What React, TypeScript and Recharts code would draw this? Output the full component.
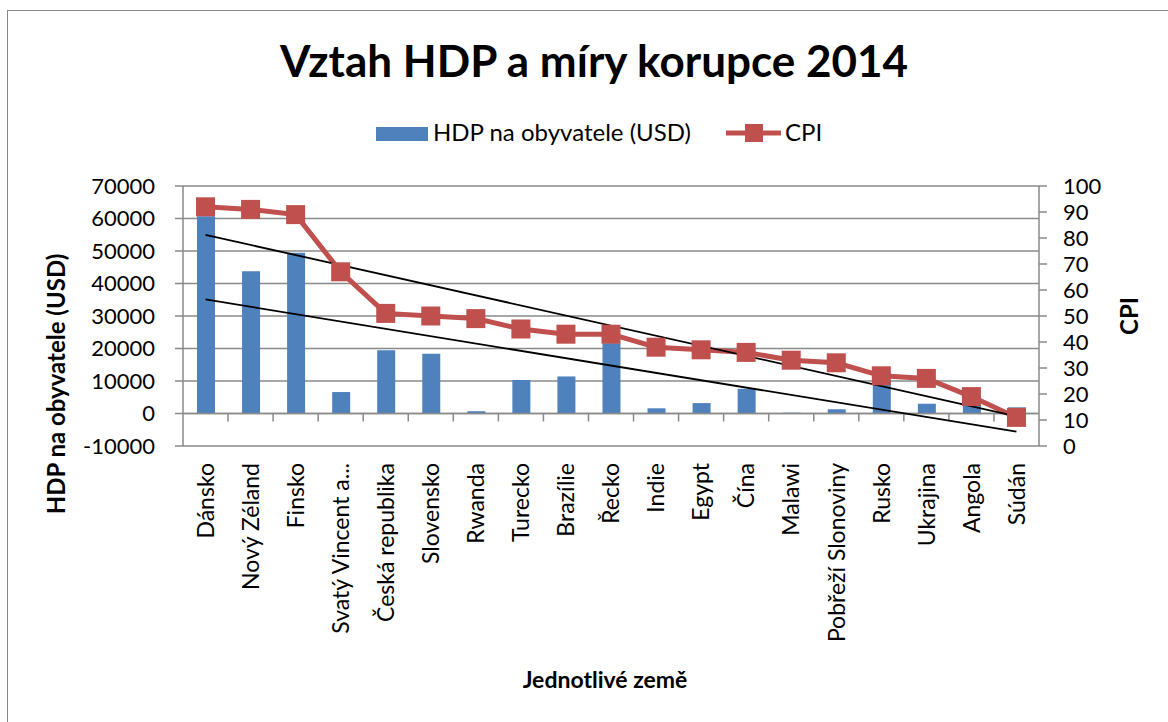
import React from 'react';
import { ComposedChart, Bar, Line, XAxis, YAxis, CartesianGrid, ReferenceLine } from 'recharts';

const categories = [
  'Dánsko', 'Nový Zéland', 'Finsko', 'Svatý Vincent a...', 'Česká republika', 'Slovensko',
  'Rwanda', 'Turecko', 'Brazílie', 'Řecko', 'Indie', 'Egypt', 'Čína', 'Malawi',
  'Pobřeží Slonoviny', 'Rusko', 'Ukrajina', 'Angola', 'Súdán',
];
const hdpValues = [60700, 43800, 49500, 6600, 19500, 18400, 700, 10300, 11400, 21600, 1600, 3200, 7600, 250, 1300, 12700, 3000, 5300, 1900];
const cpiValues = [92, 91, 89, 67, 51, 50, 49, 45, 43, 43, 38, 37, 36, 33, 32, 27, 26, 19, 11];
const hdpTicks = [-10000, 0, 10000, 20000, 30000, 40000, 50000, 60000, 70000];
const cpiTicks = [0, 10, 20, 30, 40, 50, 60, 70, 80, 90, 100];
// trendline end values (first and last country)
const hdpTrend = [35100, -5600];
const cpiTrend = [81.2, 11.4];

const data = categories.map((name, i) => ({ name, hdp: hdpValues[i], cpi: cpiValues[i] }));

const FONT = 'Lato, "Open Sans", sans-serif';
const GRID = '#8a8a8a';
const BLUE = '#4F81BD';
const RED = '#C0504D';

const CountryTick = (props: any) => {
  const { x, y, payload } = props;
  return (
    <g transform={`translate(${x},${y})`}>
      <text transform="rotate(-90)" x={-17} y={0} dy="0.36em" textAnchor="end" fontSize={23} fill="#000" fontFamily={FONT}>
        {payload.value}
      </text>
    </g>
  );
};

const SquareDot = (props: any) => {
  const { cx, cy, index } = props;
  if (cx == null || cy == null) return <g key={index} />;
  return <rect key={index} x={cx - 9.5} y={cy - 9.5} width={19} height={19} fill={RED} />;
};

const ZeroAxis = (props: any) => {
  const { x1, x2, y1 } = props;
  const n = categories.length;
  const step = (x2 - x1) / n;
  const marks = [];
  for (let i = 1; i < n; i++) {
    const xx = x1 + step * i;
    marks.push(<line key={i} x1={xx} x2={xx} y1={y1} y2={y1 + 8} stroke={GRID} strokeWidth={1.5} />);
  }
  return (
    <g>
      <line x1={x1} x2={x2} y1={y1} y2={y1} stroke={GRID} strokeWidth={1.5} />
      {marks}
    </g>
  );
};

export default function App() {
  return (
    <div style={{ position: 'relative', width: 1168, height: 722, overflow: 'hidden', background: '#fff' }}>
      <style>{`body{margin:0;}`}</style>
      <div style={{ position: 'absolute', left: 7, top: 10, width: 1300, height: 900, border: '1px solid #888', boxSizing: 'border-box' }} />
      <div style={{ position: 'absolute', left: 0, top: 0 }}>
        <ComposedChart width={1168} height={722} data={data} margin={{ top: 186, right: 49, bottom: 76, left: 83 }} barCategoryGap="30%">
          <CartesianGrid yAxisId="left" vertical={false} stroke={GRID} strokeWidth={1.5} />
          <XAxis dataKey="name" interval={0} height={200} tickSize={0} tickMargin={0} axisLine={false} tickLine={false} tick={<CountryTick />} />
          <YAxis
            yAxisId="left"
            orientation="left"
            width={100}
            domain={[-10000, 70000]}
            ticks={hdpTicks}
            interval={0}
            allowDataOverflow
            tickSize={8}
            tickMargin={20}
            tick={{ fontSize: 22, fill: '#000', fontFamily: FONT }}
            axisLine={{ stroke: GRID, strokeWidth: 1.5 }}
            tickLine={{ stroke: GRID, strokeWidth: 1.5 }}
          />
          <YAxis
            yAxisId="right"
            orientation="right"
            width={80}
            domain={[0, 100]}
            ticks={cpiTicks}
            interval={0}
            allowDataOverflow
            tickSize={8}
            tickMargin={16}
            tick={{ fontSize: 22, fill: '#000', fontFamily: FONT }}
            axisLine={{ stroke: GRID, strokeWidth: 1.5 }}
            tickLine={{ stroke: GRID, strokeWidth: 1.5 }}
          />
          <Bar yAxisId="left" dataKey="hdp" fill={BLUE} barSize={18} isAnimationActive={false} />
          <ReferenceLine yAxisId="left" y={0} shape={<ZeroAxis />} />
          <Line
            yAxisId="right"
            dataKey="cpi"
            stroke={RED}
            strokeWidth={5}
            dot={<SquareDot />}
            activeDot={false}
            isAnimationActive={false}
          />
          <ReferenceLine
            yAxisId="right"
            segment={[{ x: categories[0], y: cpiTrend[0] }, { x: categories[categories.length - 1], y: cpiTrend[1] }]}
            stroke="#000"
            strokeWidth={1.8}
          />
          <ReferenceLine
            yAxisId="left"
            segment={[{ x: categories[0], y: hdpTrend[0] }, { x: categories[categories.length - 1], y: hdpTrend[1] }]}
            stroke="#000"
            strokeWidth={1.8}
          />
        </ComposedChart>
      </div>
      <svg width={1168} height={722} style={{ position: 'absolute', left: 0, top: 0, pointerEvents: 'none' }} fontFamily={FONT}>
        <text x={594} y={77} textAnchor="middle" fontSize={44} fontWeight="bold" fill="#000">Vztah HDP a míry korupce 2014</text>
        <rect x={376} y={127} width={52} height={14} fill={BLUE} />
        <text x={433} y={141} fontSize={24} fill="#000">HDP na obyvatele (USD)</text>
        <line x1={726} x2={781} y1={133} y2={133} stroke={RED} strokeWidth={5} />
        <rect x={745} y={124} width={18} height={18} fill={RED} />
        <text x={785} y={141} fontSize={24} fill="#000">CPI</text>
        <text transform="translate(65,384) rotate(-90)" textAnchor="middle" fontSize={24} fontWeight="bold" fill="#000">HDP na obyvatele (USD)</text>
        <text transform="translate(1138,316) rotate(-90)" textAnchor="middle" fontSize={24} fontWeight="bold" fill="#000">CPI</text>
        <text x={605} y={688} textAnchor="middle" fontSize={23} fontWeight="bold" fill="#000">Jednotlivé země</text>
      </svg>
    </div>
  );
}
